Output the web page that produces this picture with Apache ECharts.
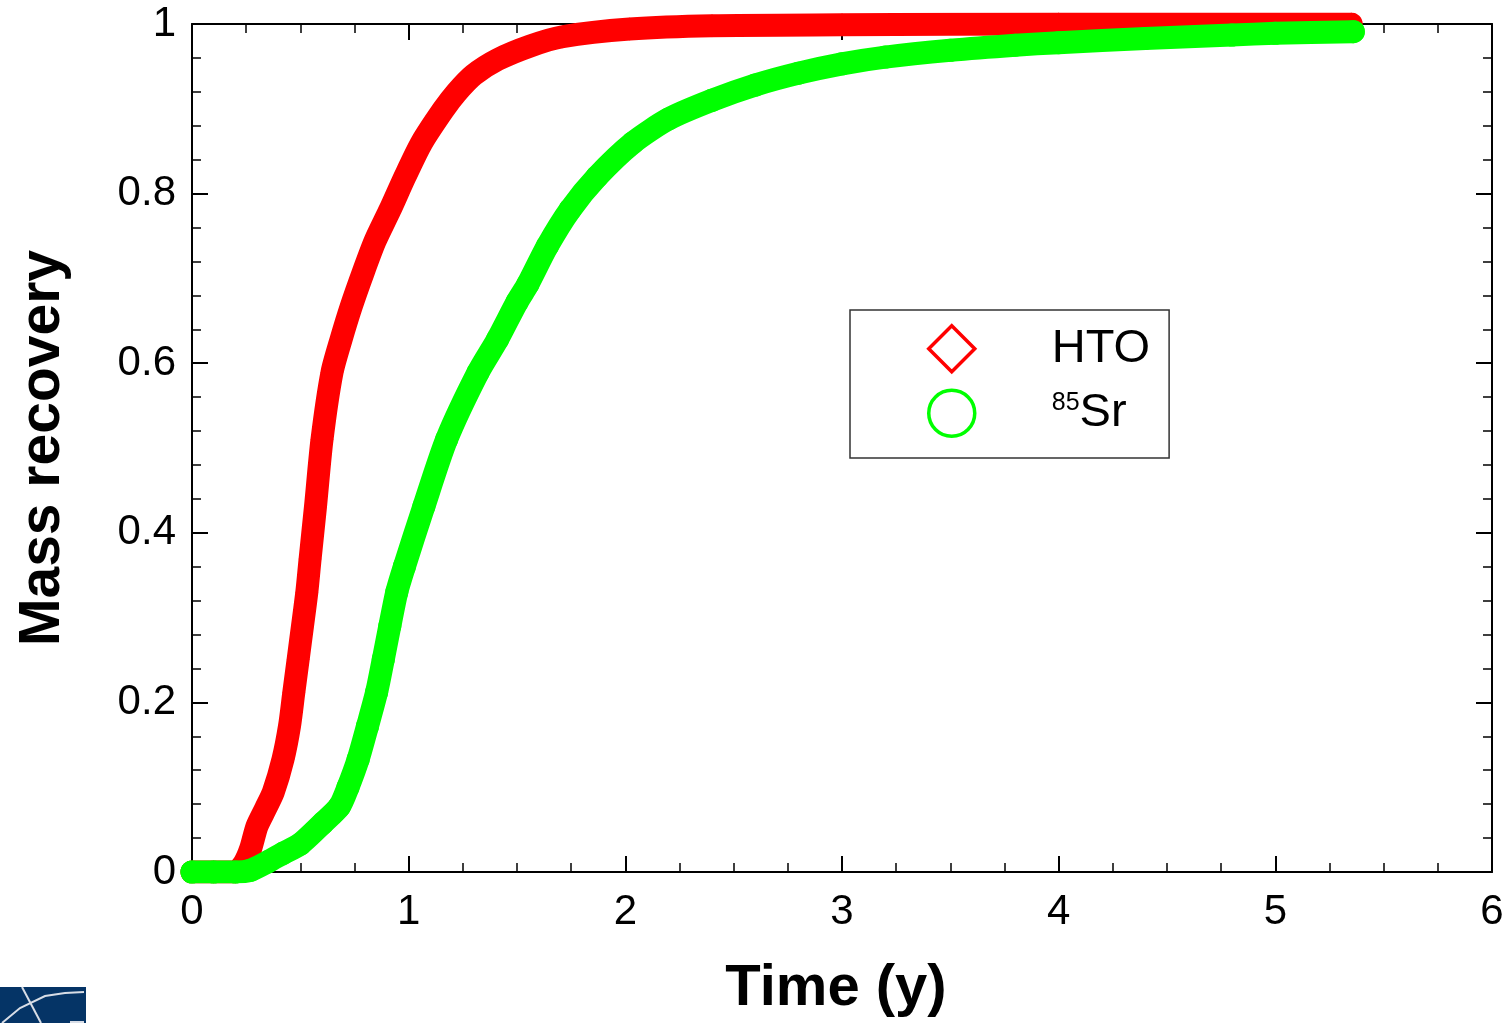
<!DOCTYPE html>
<html>
<head>
<meta charset="utf-8">
<script src="https://cdn.jsdelivr.net/npm/echarts@6/dist/echarts.min.js"></script>
<style>
html,body{margin:0;padding:0;background:#fff;}
#chart{width:1510px;height:1023px;}
</style>
</head>
<body>
<div id="chart"></div>
<script>
// HTO (diamonds, red)
var htoX = [0, 0.1, 0.2, 0.24, 0.27, 0.30, 0.34, 0.375, 0.42, 0.45, 0.47, 0.49, 0.51, 0.53, 0.545, 0.57, 0.60, 0.646, 0.688, 0.735, 0.79, 0.845, 0.914, 0.983, 1.06, 1.16, 1.22, 1.30, 1.41, 1.56, 1.71, 2.02, 2.4, 3.0, 4.0, 5.35];
var htoY = [0, 0, 0, 0.01, 0.027, 0.054, 0.075, 0.094, 0.133, 0.172, 0.212, 0.251, 0.29, 0.33, 0.369, 0.431, 0.51, 0.589, 0.628, 0.667, 0.707, 0.744, 0.781, 0.82, 0.86, 0.899, 0.919, 0.94, 0.958, 0.974, 0.985, 0.994, 0.998, 0.999, 1.0, 1.0];
// 85Sr (circles, green)
var srX = [0, 0.1, 0.2, 0.27, 0.35, 0.42, 0.5, 0.605, 0.68, 0.72, 0.767, 0.81, 0.852, 0.883, 0.913, 0.945, 0.98, 1.07, 1.175, 1.32, 1.41, 1.5, 1.55, 1.64, 1.745, 1.87, 2.035, 2.2, 2.4, 2.6, 2.8, 3.0, 3.2, 3.5, 3.8, 4.0, 4.4, 4.8, 5.0, 5.36];
var srY = [0, 0, 0, 0.002, 0.012, 0.022, 0.033, 0.058, 0.077, 0.1, 0.133, 0.172, 0.212, 0.251, 0.29, 0.33, 0.36, 0.431, 0.51, 0.589, 0.628, 0.672, 0.693, 0.738, 0.781, 0.82, 0.86, 0.888, 0.910, 0.928, 0.942, 0.953, 0.961, 0.969, 0.975, 0.978, 0.983, 0.987, 0.989, 0.991];

var xTicks = {min: 0, max: 6, interval: 1};
var yTicks = {min: 0, max: 1, interval: 0.2};

function pairs(xs, ys){ return xs.map(function(x,i){ return [x, ys[i]]; }); }

var FONT = '"Liberation Sans", Arial, sans-serif';
var axisCommon = {
  axisLine: {show: true, onZero: false, lineStyle: {color: '#000', width: 2}},
  axisTick: {show: true, inside: true, length: 16, lineStyle: {color: '#000', width: 2}},
  minorTick: {show: true, length: 9, lineStyle: {color: '#000', width: 1.5}},
  splitLine: {show: false}
};

var chart = echarts.init(document.getElementById('chart'), null, {renderer: 'canvas'});
chart.setOption({
  animation: false,
  backgroundColor: '#fff',
  grid: {left: 192, right: 18, top: 24, bottom: 150, containLabel: false},
  xAxis: [
    Object.assign({}, axisCommon, {
      type: 'value', position: 'bottom', min: xTicks.min, max: xTicks.max, interval: xTicks.interval,
      minorTick: Object.assign({}, axisCommon.minorTick, {splitNumber: 4}),
      axisLabel: {fontSize: 42, color: '#000', fontFamily: FONT, margin: 19},
      name: 'Time (y)', nameLocation: 'middle', nameGap: 88,
      nameTextStyle: {fontSize: 58, fontWeight: 'bold', color: '#000', fontFamily: FONT, padding: [0, 12, 0, 0]}
    }),
    Object.assign({}, axisCommon, {
      type: 'value', position: 'top', min: xTicks.min, max: xTicks.max, interval: xTicks.interval,
      minorTick: Object.assign({}, axisCommon.minorTick, {splitNumber: 4}),
      axisLabel: {show: false}
    })
  ],
  yAxis: [
    Object.assign({}, axisCommon, {
      type: 'value', position: 'left', min: yTicks.min, max: yTicks.max, interval: yTicks.interval,
      minorTick: Object.assign({}, axisCommon.minorTick, {splitNumber: 5}),
      axisLabel: {fontSize: 42, color: '#000', fontFamily: FONT, margin: 16},
      name: 'Mass recovery', nameLocation: 'middle', nameGap: 120, nameRotate: 90,
      nameTextStyle: {fontSize: 57, fontWeight: 'bold', color: '#000', fontFamily: FONT}
    }),
    Object.assign({}, axisCommon, {
      type: 'value', position: 'right', min: yTicks.min, max: yTicks.max, interval: yTicks.interval,
      minorTick: Object.assign({}, axisCommon.minorTick, {splitNumber: 5}),
      axisLabel: {show: false}
    })
  ],
  legend: {
    orient: 'vertical', left: 850, top: 310,
    padding: [14, 19, 20, 77],
    itemWidth: 46, itemHeight: 46, itemGap: 15,
    borderColor: '#333', borderWidth: 1.5, backgroundColor: '#fff',
    textStyle: {fontSize: 47, lineHeight: 46, color: '#000', fontFamily: FONT, padding: [0, 0, 0, 72],
      rich: {
        sup: {fontSize: 25, lineHeight: 25, fontFamily: FONT, color: '#000', verticalAlign: 'top'},
        big: {fontSize: 47, lineHeight: 46, fontFamily: FONT, color: '#000'}
      }
    },
    formatter: function(name){
      if (name === '85Sr') return '{sup|85}{big|Sr}';
      return name;
    },
    data: [
      {name: 'HTO', icon: 'diamond', itemStyle: {color: '#fff', borderColor: '#ff0000', borderWidth: 3.5}},
      {name: '85Sr', icon: 'circle', itemStyle: {color: '#fff', borderColor: '#00ff00', borderWidth: 3.5}}
    ]
  },
  series: [
    {
      name: 'HTO', type: 'line', xAxisIndex: 0, yAxisIndex: 0,
      data: pairs(htoX, htoY),
      smooth: 0.25,
      symbol: 'diamond', symbolSize: 23, showSymbol: true,
      itemStyle: {color: '#ff0000'},
      lineStyle: {color: '#ff0000', width: 23, cap: 'round', join: 'round'},
      z: 2
    },
    {
      name: '85Sr', type: 'line', xAxisIndex: 0, yAxisIndex: 0,
      data: pairs(srX, srY),
      smooth: 0.25,
      symbol: 'circle', symbolSize: 23, showSymbol: true,
      itemStyle: {color: '#00ff00'},
      lineStyle: {color: '#00ff00', width: 23, cap: 'round', join: 'round'},
      z: 3
    }
  ],
  graphic: [
    {type: 'rect', left: 0, top: 987, shape: {width: 86, height: 36}, style: {fill: '#053466'}, silent: true},
    {type: 'polyline', shape: {points: [[2, 1023], [20, 1008], [45, 996], [65, 993], [84, 992]]}, style: {stroke: '#d8dde6', lineWidth: 2, fill: null}, silent: true},
    {type: 'line', shape: {x1: 22, y1: 987, x2: 41, y2: 1023}, style: {stroke: '#d8dde6', lineWidth: 2}, silent: true},
    {type: 'line', shape: {x1: 70, y1: 1022, x2: 84, y2: 1022}, style: {stroke: '#d8dde6', lineWidth: 2}, silent: true}
  ]
});
</script>
</body>
</html>
